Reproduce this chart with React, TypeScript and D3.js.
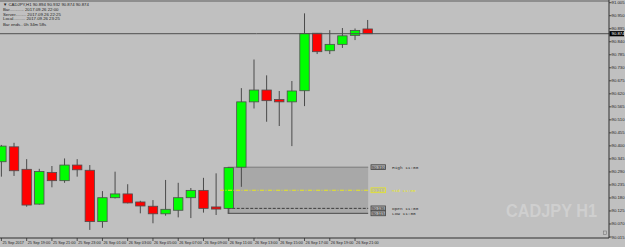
import React from "react";
import * as d3 from "d3";

const W = 625;
const H = 247;

// bars: 25 Sep 17:00 ... 26 Sep 22:00 (H1)
const opens = [90.333, 90.396, 90.301, 90.154, 90.288, 90.253, 90.319, 90.297, 90.080, 90.181,
  90.197, 90.163, 90.145, 90.113, 90.128, 90.181, 90.212, 90.142, 90.136, 90.310,
  90.586, 90.636, 90.596, 90.586, 90.633, 90.876, 90.802, 90.829, 90.867, 90.894];
const highs = [90.404, 90.413, 90.344, 90.303, 90.315, 90.347, 90.344, 90.319, 90.209, 90.291,
  90.238, 90.168, 90.171, 90.256, 90.244, 90.222, 90.265, 90.284, 90.310, 90.644,
  90.765, 90.698, 90.632, 90.674, 90.960, 90.877, 90.889, 90.898, 90.896, 90.932];
const lows = [90.270, 90.273, 90.143, 90.152, 90.225, 90.244, 90.270, 90.045, 90.054, 90.178,
  90.157, 90.115, 90.073, 90.105, 90.098, 90.095, 90.118, 90.108, 90.115, 90.227,
  90.558, 90.502, 90.484, 90.399, 90.568, 90.788, 90.788, 90.814, 90.847, 90.874];
const closes = [90.399, 90.295, 90.150, 90.292, 90.253, 90.319, 90.299, 90.080, 90.181, 90.197,
  90.159, 90.146, 90.113, 90.132, 90.181, 90.212, 90.136, 90.133, 90.308, 90.586,
  90.636, 90.591, 90.586, 90.632, 90.875, 90.798, 90.829, 90.865, 90.888, 90.874];

const timeLabels = ["25 Sep 2017", "25 Sep 19:00", "25 Sep 21:00", "25 Sep 23:00", "26 Sep 01:00",
  "26 Sep 03:00", "26 Sep 05:00", "26 Sep 07:00", "26 Sep 09:00", "26 Sep 11:00", "26 Sep 13:00",
  "26 Sep 15:00", "26 Sep 17:00", "26 Sep 19:00", "26 Sep 21:00"];
const priceTicks = ["90.015", "90.070", "90.125", "90.180", "90.235", "90.290", "90.345", "90.400",
  "90.455", "90.510", "90.565", "90.620", "90.675", "90.730", "90.785", "90.840", "90.895", "90.950", "91.005"];

const headerLines = [
  "\u25BC CADJPY,H1  90.894 90.932 90.874 90.874",
  "Bar............ 2017.09.26 22:00",
  "Server......... 2017.09.26 22:25",
  "Local.......... 2017.09.26 23:25",
  "Bar ends.. 0h 34m 58s",
];

// session box (11:00 bar)
const boxBar = 18;
const boxEndBar = 29;
const boxHigh = 90.310;
const boxLow = 90.115;
const boxOpen = 90.136;
const boxMid = 90.2125;
const currentPrice = 90.874;

const FONT = "'Liberation Sans', Arial, sans-serif";
const MONO = "'Liberation Mono', 'DejaVu Sans Mono', monospace";

export default function App() {
  const axisX = 609;
  const axisY = 238;
  const x = d3.scaleLinear().domain([0, 29]).range([1.4, 1.4 + 12.63 * 29]);
  const y = d3.scaleLinear().domain([90.015, 91.005]).range([237, 2.7]);
  const bw = 9.4;

  const boxL = x(boxBar) - 1;
  const boxR = x(boxEndBar) + 0.5;
  const tagX = 371;

  const tags = [
    { v: boxHigh, label: "High 11:00", color: "#2a2a2a", stroke: "#404040", fill: "#a9a9a9" },
    { v: boxMid, label: "Mid 11:00", color: "#e8e820", stroke: "#e8e820", fill: "#b4b4b4" },
    { v: boxOpen, label: "Open 11:00", color: "#2a2a2a", stroke: "#404040", fill: "#a9a9a9" },
    { v: boxLow, label: "Low 11:00", color: "#2a2a2a", stroke: "#404040", fill: "#a9a9a9" },
  ];

  return (
    <svg width={W} height={H} style={{ position: "absolute", left: 0, top: 0, display: "block" }}>
      <rect x={0} y={0} width={W} height={H} fill="#c0c0c0" />
      <rect x={0} y={0} width={axisX} height={2} fill="#8e8e8e" />

      {/* watermark */}
      <text x={506} y={217} fontFamily={FONT} fontWeight="bold" fontSize={17.5} fill="#cfcfcf"
        textLength={91} lengthAdjust="spacingAndGlyphs">CADJPY H1</text>

      {/* session box */}
      <rect x={boxL} y={y(boxHigh)} width={boxR - boxL} height={y(boxLow) - y(boxHigh)} fill="#a8a8a8" />
      <line x1={boxL} x2={boxR} y1={y(boxHigh)} y2={y(boxHigh)} stroke="#7a7a7a" strokeWidth={1} />
      <line x1={boxL} x2={boxL} y1={y(boxHigh)} y2={y(boxLow)} stroke="#8a8a8a" strokeWidth={0.8} />
      <line x1={boxL} x2={boxR} y1={y(boxOpen)} y2={y(boxOpen)} stroke="#3c3c3c" strokeWidth={1} strokeDasharray="3,1.5" />
      <line x1={boxL} x2={boxR} y1={y(boxLow)} y2={y(boxLow)} stroke="#4a4a4a" strokeWidth={1} />

      {/* candles */}
      {opens.map((o, i) => {
        const c = closes[i];
        const up = c >= o;
        const top = y(Math.max(o, c));
        const bot = y(Math.min(o, c));
        const cx = x(i);
        return (
          <g key={i}>
            <line x1={cx} x2={cx} y1={y(highs[i])} y2={y(lows[i])} stroke="#4a4a4a" strokeWidth={1} />
            <rect x={cx - bw / 2} y={top} width={bw} height={Math.max(bot - top, 1.2)}
              fill={up ? "#00ff00" : "#ff0000"} stroke="#4d4d4d" strokeWidth={0.8} />
          </g>
        );
      })}

      {/* mid line */}
      <line x1={220} x2={boxR} y1={y(boxMid)} y2={y(boxMid)} stroke="#e6e61e" strokeWidth={1} strokeDasharray="4,1.5,1,1.5" />

      {/* tags */}
      {tags.map((t, i) => (
        <g key={i}>
          <rect x={tagX} y={y(t.v) - 2.4} width={14.5} height={4.8} fill={t.fill} stroke={t.stroke} strokeWidth={0.8} />
          <text x={tagX + 7.25} y={y(t.v) + 1.5} textAnchor="middle" fontFamily={FONT} fontSize={4.2} fill={t.color}>
            {t.v.toFixed(3)}
          </text>
          <text x={392} y={y(t.v) + 1.5} fontFamily={MONO} fontSize={4.4} fill={t.color}>{t.label}</text>
        </g>
      ))}

      {/* current price line */}
      <line x1={0} x2={axisX} y1={y(currentPrice)} y2={y(currentPrice)} stroke="#4f4f4f" strokeWidth={1} />

      {/* header */}
      {headerLines.map((t, i) => (
        <text key={i} x={3} y={[6, 11.3, 15.8, 20.4, 25.6][i]} fontFamily={FONT} fontSize={4.3} fill="#1e1e1e">{t}</text>
      ))}

      {/* axes */}
      <line x1={axisX} x2={axisX} y1={0} y2={axisY} stroke="#2e2e2e" strokeWidth={1} />
      <line x1={0} x2={axisX} y1={axisY} y2={axisY} stroke="#2e2e2e" strokeWidth={1} />
      {priceTicks.map((t) => {
        const yy = y(+t);
        return (
          <g key={t}>
            <line x1={axisX} x2={axisX + 2.5} y1={yy} y2={yy} stroke="#2e2e2e" strokeWidth={0.8} />
            <text x={611.5} y={yy + 1.5} fontFamily={FONT} fontSize={4.3} fill="#1e1e1e">{t}</text>
          </g>
        );
      })}
      <rect x={609.5} y={y(currentPrice) - 2.6} width={14.5} height={5.2} fill="#000" />
      <text x={611.5} y={y(currentPrice) + 1.5} fontFamily={FONT} fontSize={4.3} fill="#fff">{currentPrice.toFixed(3)}</text>

      {timeLabels.map((t, k) => {
        const xx = x(k * 2);
        return (
          <g key={t}>
            <line x1={xx} x2={xx} y1={axisY} y2={axisY + 3} stroke="#2e2e2e" strokeWidth={0.8} />
            <text x={xx + 1} y={243.5} fontFamily={FONT} fontSize={3.8} fill="#1e1e1e">{t}</text>
          </g>
        );
      })}

      {/* small icon */}
      <rect x={603.5} y={231} width={3} height={3.5} fill="none" stroke="#777" strokeWidth={0.6} />
    </svg>
  );
}
